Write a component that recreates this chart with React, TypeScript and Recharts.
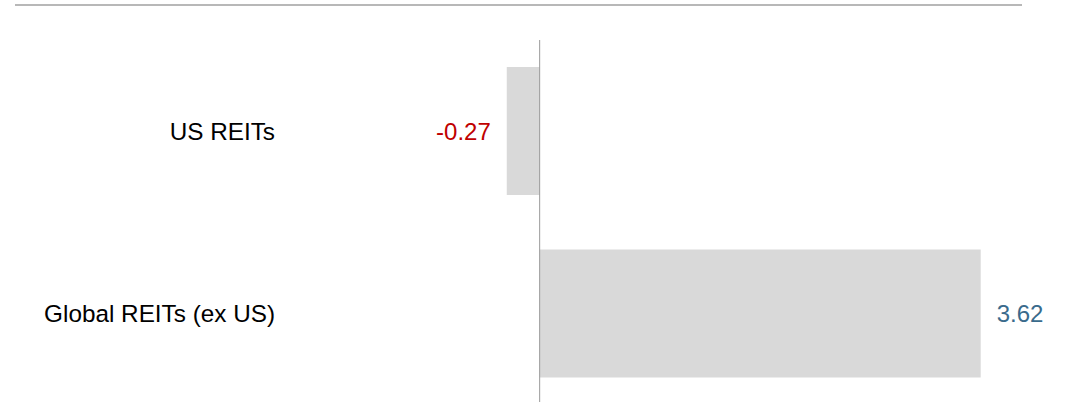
import { BarChart, Bar, XAxis, YAxis, ReferenceLine, LabelList } from 'recharts';

const categories = ['US REITs', 'Global REITs (ex US)'];
const values = [-0.27, 3.62];

const data = categories.map((name, i) => ({ name, value: values[i] }));

const FONT = '"Liberation Sans", Arial, sans-serif';
const NEG_COLOR = '#c00000';
const POS_COLOR = '#3a6b8c';

function ValueLabel(props: any) {
  const { x, y, width, height, value } = props;
  const left = Math.min(x, x + width);
  const right = Math.max(x, x + width);
  const neg = value < 0;
  return (
    <text
      x={neg ? left - 16 : right + 16}
      y={y + height / 2}
      dy="0.355em"
      textAnchor={neg ? 'end' : 'start'}
      fill={neg ? NEG_COLOR : POS_COLOR}
      fontSize={24}
      fontFamily={FONT}
    >
      {value.toFixed(2)}
    </text>
  );
}

export default function App() {
  return (
    <div style={{ position: 'absolute', left: 0, top: 0, width: 1065, height: 402, overflow: 'hidden', background: '#fff' }}>
      {/* top rule */}
      <div style={{ position: 'absolute', left: 15, top: 4, width: 1007, borderTop: '2px solid #b8b8b8' }} />
      <BarChart
        layout="vertical"
        width={1065}
        height={410}
        data={data}
        margin={{ top: 40, right: 38, bottom: 5, left: 0 }}
      >
        <XAxis type="number" domain={[-2, 4]} hide />
        <YAxis
          type="category"
          dataKey="name"
          width={296}
          axisLine={false}
          tickLine={false}
          tickMargin={15}
          tick={{ fill: '#000', fontSize: 24.3, fontFamily: FONT }}
        />
        <Bar dataKey="value" fill="#d9d9d9" barSize={128} isAnimationActive={false}>
          <LabelList dataKey="value" content={ValueLabel} />
        </Bar>
        <ReferenceLine x={0} stroke="#9a9a9a" strokeWidth={1} />
      </BarChart>
    </div>
  );
}
